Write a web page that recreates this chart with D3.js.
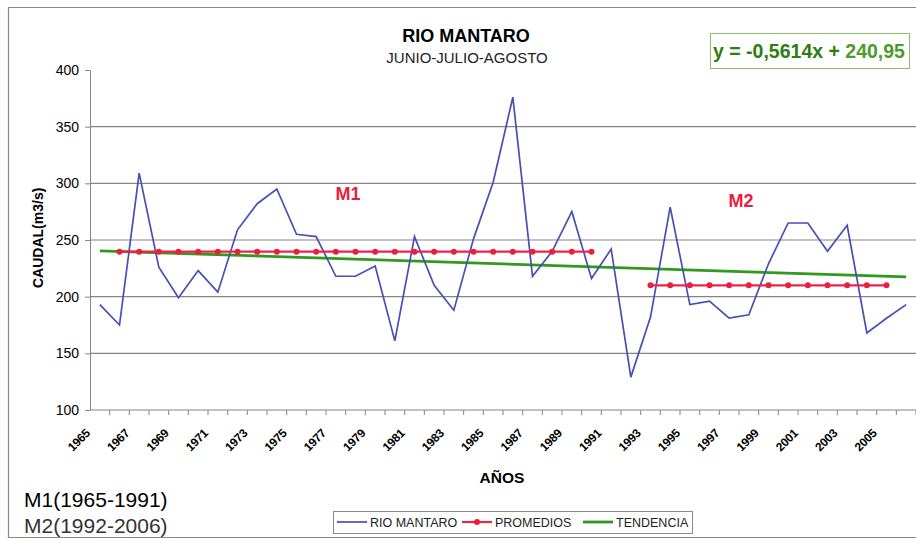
<!DOCTYPE html>
<meta charset="utf-8">
<script src="https://cdn.jsdelivr.net/npm/d3@7/dist/d3.min.js"></script>
<style>
body { margin: 0; background: #fff; }
text { font-family: "Liberation Sans", Arial, sans-serif; fill: #000; }
.grid line { stroke: #858585; stroke-width: 1.2px; }
.axis path, .axis line { stroke: #858585; }
</style>
<body>
<script>

// years on the x axis
var years = d3.range(1965, 2007);

// caudal (m3/s), JJA mean per year
var caudal = [193, 175, 309, 226, 199, 223, 204, 259, 282, 295,
              255, 253, 218, 218, 227, 161, 253, 210, 188, 251,
              301, 376, 218, 240, 275, 216, 242, 129, 182, 279,
              193, 196, 181, 184, 229, 265, 265, 240, 263, 168,
              181, 193];

// promedios M1 and M2 (as drawn)
var m1Years = d3.range(1966, 1991);
var m1Value = 239.7;
var m2Years = d3.range(1993, 2006);
var m2Value = 210;

// tendencia, end points of the trend line
var trendYears = [1965, 2006];
var trendValues = [240.4, 217.4];

var yTicks = [100, 150, 200, 250, 300, 350, 400];
var xLabels = years.filter(function(d) { return (d - 1965) % 2 == 0 && d < 2006; });

var width = 916, height = 539;
var mLeft = 90, mRight = 916, mTop = 70, mBottom = 410;

var svg = d3.select("body").append("svg")
    .attr("width", width)
    .attr("height", height);

// outer frame
svg.append("path")
    .attr("d", "M916,7.5 H8.5 V537.5 H916")
    .attr("fill", "none")
    .attr("stroke", "#8a8a8a")
    .attr("stroke-width", 1.2);

var x = d3.scaleBand()
    .domain(years)
    .range([mLeft, mRight]);

var y = d3.scaleLinear()
    .domain([100, 400])
    .range([mBottom, mTop]);

function cx(d) { return x(d) + x.bandwidth() / 2; }

// gridlines
svg.append("g")
    .attr("class", "grid")
    .selectAll("line")
    .data(yTicks.filter(function(d) { return d > 100 && d < 400; }))
    .enter().append("line")
    .attr("x1", mLeft).attr("x2", mRight)
    .attr("y1", function(d) { return y(d); })
    .attr("y2", function(d) { return y(d); });

// y axis
var yAxis = svg.append("g")
    .attr("class", "axis")
    .attr("transform", "translate(" + mLeft + ",0)")
    .call(d3.axisLeft(y).tickValues(yTicks).tickSize(5).tickPadding(6).tickSizeOuter(0));
yAxis.selectAll("text")
    .style("font-size", "14px")
    .style("font-family", "Liberation Sans, Arial, sans-serif");

// x axis, ticks between categories
var xAxis = svg.append("g")
    .attr("class", "axis")
    .attr("transform", "translate(0," + mBottom + ")");
xAxis.append("line")
    .attr("x1", mLeft).attr("x2", mRight);
xAxis.selectAll(".tk")
    .data(years)
    .enter().append("line")
    .attr("class", "tk")
    .attr("x1", function(d) { return x(d) + x.bandwidth(); })
    .attr("x2", function(d) { return x(d) + x.bandwidth(); })
    .attr("y1", 0).attr("y2", 5);

svg.append("g")
    .selectAll("text")
    .data(xLabels)
    .enter().append("text")
    .attr("transform", function(d) { return "translate(" + (cx(d) - 12) + "," + 431 + ") rotate(-45)"; })
    .attr("text-anchor", "end")
    .attr("dy", "0.35em")
    .style("font-size", "12px")
    .style("font-weight", "bold")
    .style("letter-spacing", "-0.3px")
    .text(function(d) { return d; });

// series
var line = d3.line()
    .x(function(d) { return cx(d[0]); })
    .y(function(d) { return y(d[1]); });

svg.append("path")
    .datum(d3.zip(trendYears, trendValues))
    .attr("d", line)
    .attr("fill", "none")
    .attr("stroke", "#2f9a1c")
    .attr("stroke-width", 2.8);

svg.append("path")
    .datum(d3.zip(years, caudal))
    .attr("d", line)
    .attr("fill", "none")
    .attr("stroke", "#4650b4")
    .attr("stroke-width", 1.7);

[[m1Years, m1Value], [m2Years, m2Value]].forEach(function(m) {
  var pts = m[0].map(function(yr) { return [yr, m[1]]; });
  svg.append("path")
      .datum(pts)
      .attr("d", line)
      .attr("fill", "none")
      .attr("stroke", "#ee2347")
      .attr("stroke-width", 2.2);
  svg.append("g")
      .selectAll("circle")
      .data(pts)
      .enter().append("circle")
      .attr("cx", function(d) { return cx(d[0]); })
      .attr("cy", function(d) { return y(d[1]); })
      .attr("r", 3)
      .attr("fill", "#e8203e");
});

// titles
svg.append("text")
    .attr("x", 466).attr("y", 42)
    .attr("text-anchor", "middle")
    .style("font-size", "18px")
    .style("font-weight", "bold")
    .text("RIO MANTARO");

svg.append("text")
    .attr("x", 467).attr("y", 63)
    .attr("text-anchor", "middle")
    .style("font-size", "15px")
    .style("fill", "#222")
    .text("JUNIO-JULIO-AGOSTO");

// equation box
svg.append("rect")
    .attr("x", 710.5).attr("y", 33.5)
    .attr("width", 199).attr("height", 35)
    .attr("fill", "#fff")
    .attr("stroke", "#8cc060")
    .attr("stroke-width", 1);
var eq = svg.append("text")
    .attr("x", 809).attr("y", 58)
    .attr("text-anchor", "middle")
    .style("font-size", "19.5px")
    .style("font-weight", "bold");
eq.append("tspan").style("fill", "#2e7d14").text("y = -0,5614x + ");
eq.append("tspan").style("fill", "#4c9a2a").text("240,95");

// M1 / M2 labels
svg.append("text")
    .attr("x", 348).attr("y", 200)
    .attr("text-anchor", "middle")
    .style("font-size", "18px")
    .style("font-weight", "bold")
    .style("fill", "#e8203e")
    .text("M1");
svg.append("text")
    .attr("x", 741).attr("y", 207)
    .attr("text-anchor", "middle")
    .style("font-size", "18px")
    .style("font-weight", "bold")
    .style("fill", "#e8203e")
    .text("M2");

// axis titles
svg.append("text")
    .attr("transform", "translate(43,288) rotate(-90)")
    .attr("text-anchor", "start")
    .style("font-size", "14px")
    .style("font-weight", "bold")
    .text("CAUDAL(m3/s)");

svg.append("text")
    .attr("x", 502).attr("y", 483)
    .attr("text-anchor", "middle")
    .style("font-size", "15.5px")
    .style("font-weight", "bold")
    .text("AÑOS");

// period notes
svg.append("text")
    .attr("x", 24).attr("y", 507)
    .style("font-size", "21px")
    .text("M1(1965-1991)");
svg.append("text")
    .attr("x", 24).attr("y", 533)
    .style("font-size", "21px")
    .style("fill", "#333")
    .text("M2(1992-2006)");

// legend
var legend = svg.append("g");
legend.append("rect")
    .attr("x", 333.5).attr("y", 511.5)
    .attr("width", 359).attr("height", 22)
    .attr("fill", "#fff")
    .attr("stroke", "#8a8a8a");

var legendItems = [
  {name: "RIO MANTARO", color: "#4650b4", x: 337, w: 1.7, dot: false},
  {name: "PROMEDIOS", color: "#ee2347", x: 462, w: 2.2, dot: true},
  {name: "TENDENCIA", color: "#2f9a1c", x: 583, w: 2.8, dot: false}
];
legendItems.forEach(function(d) {
  legend.append("line")
      .attr("x1", d.x).attr("x2", d.x + 30)
      .attr("y1", 522).attr("y2", 522)
      .attr("stroke", d.color)
      .attr("stroke-width", d.w);
  if (d.dot) {
    legend.append("circle")
        .attr("cx", d.x + 15).attr("cy", 522)
        .attr("r", 3).attr("fill", "#e8203e");
  }
  legend.append("text")
      .attr("x", d.x + 33).attr("y", 526.5)
      .style("font-size", "12.5px")
      .style("fill", "#222")
      .text(d.name);
});

</script>
</body>
